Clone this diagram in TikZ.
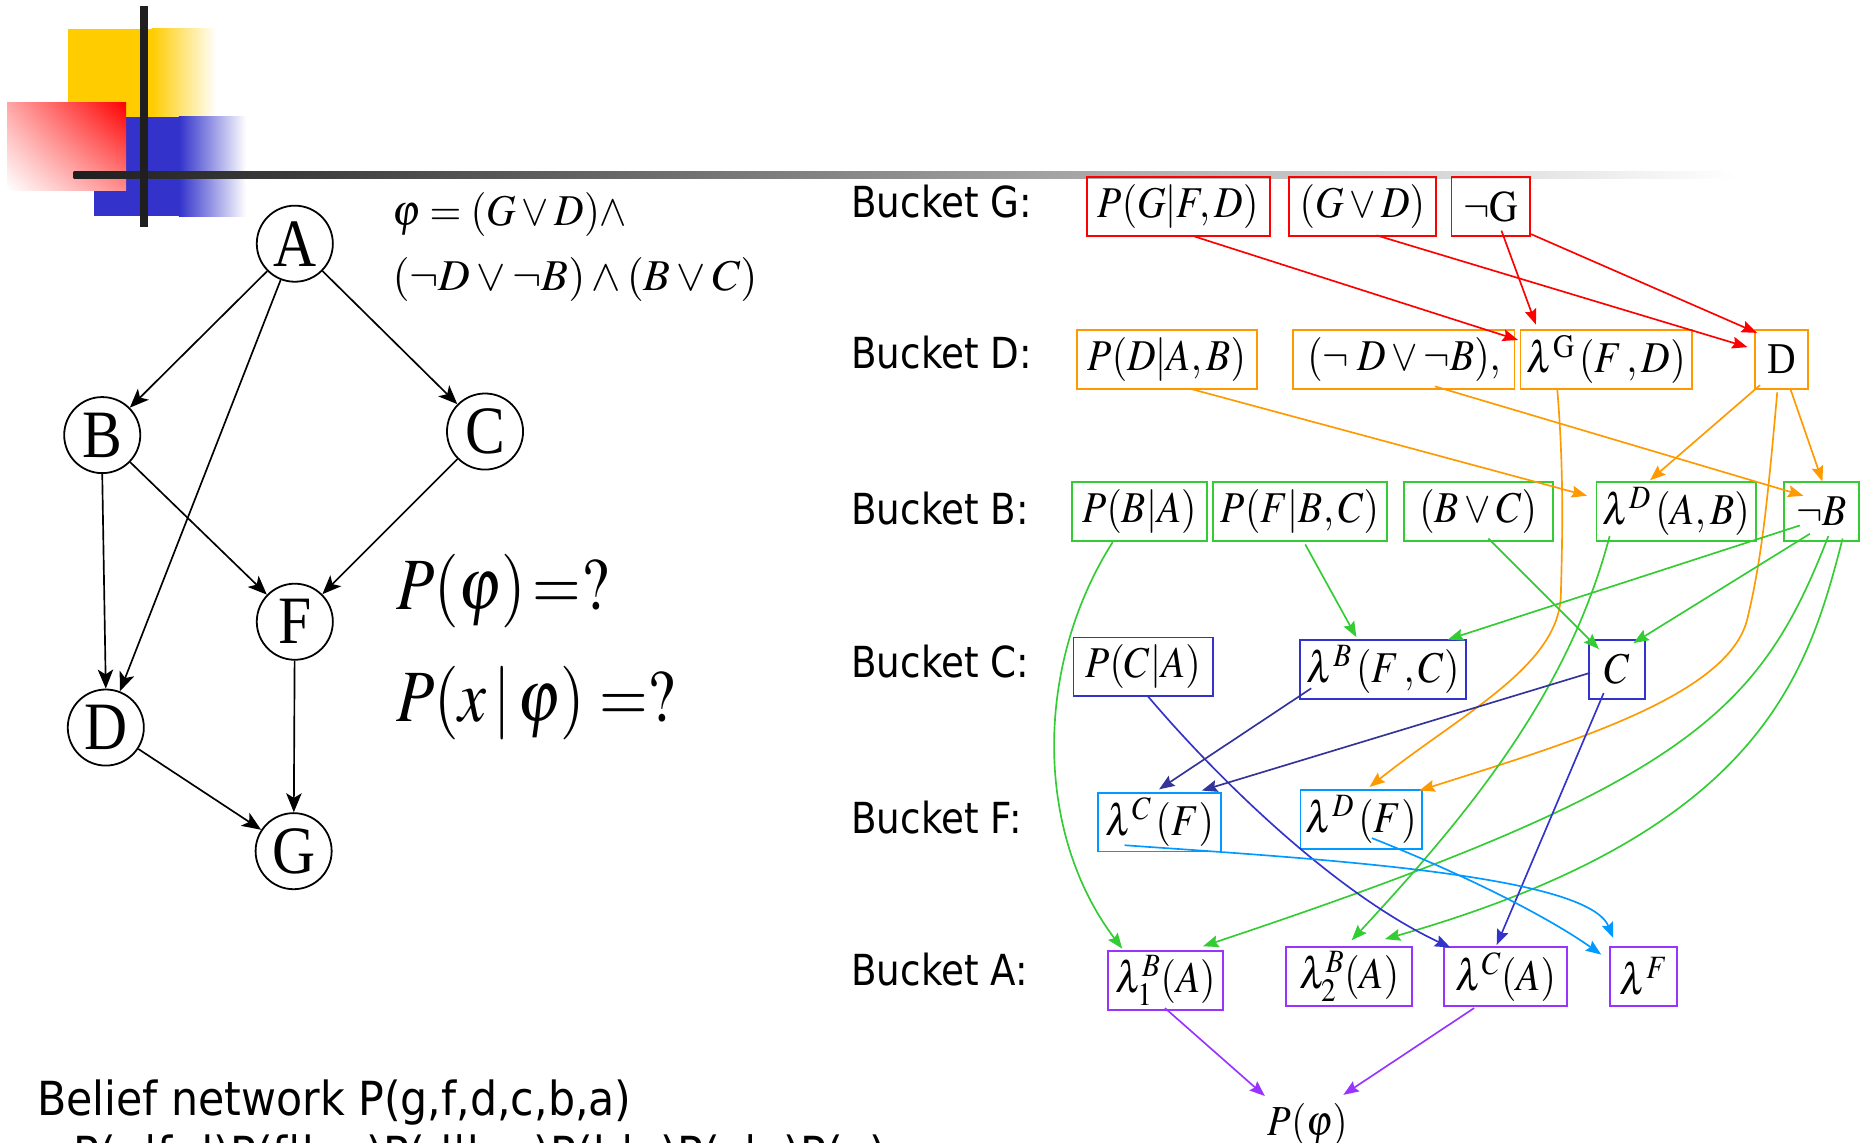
\documentclass[tikz,border=0pt]{standalone}
\usepackage{mathptmx}
\usepackage[no-math]{fontspec}
\setmainfont{Liberation Serif}
\newfontfamily\tahoma{DejaVu Sans}
\usepackage{graphicx}
\usetikzlibrary{arrows.meta,shadings}
\definecolor{cRed}{RGB}{255,0,0}
\definecolor{cOrange}{RGB}{255,153,0}
\definecolor{cGreen}{RGB}{51,204,51}
\definecolor{cBlue}{RGB}{51,51,204}
\definecolor{cNavy}{RGB}{51,51,153}
\definecolor{cLBlue}{RGB}{0,153,255}
\definecolor{cPurple}{RGB}{153,51,255}
\definecolor{cYellow}{RGB}{255,204,0}
\definecolor{cDeco}{RGB}{51,51,204}
\newcommand{\sqz}[2][0.9]{\scalebox{#1}[1]{#2}}
\begin{document}
\begin{tikzpicture}[x=1pt,y=-1pt,
  bx/.style={draw, line width=1.6pt, inner sep=0pt, minimum height=49.5pt, font=\fontsize{37}{42}\selectfont},
  gB/.style={bx, draw=cRed},
  dB/.style={bx, draw=cOrange},
  bB/.style={bx, draw=cGreen},
  cB/.style={bx, draw=cBlue},
  fB/.style={bx, draw=cLBlue},
  aB/.style={bx, draw=cPurple},
  con/.style={line width=1.4pt, -{Stealth[length=13pt,width=10pt,inset=2pt]}},
  circ/.style={draw, circle, line width=1.5pt, minimum size=64pt, inner sep=0pt, font=\fontsize{57}{60}\selectfont},
  larr/.style={line width=1.4pt, -{Stealth[length=16pt,width=13pt,inset=4pt]}},
  bucket/.style={anchor=base west, inner sep=0pt, font=\tahoma\fontsize{36}{40}\selectfont},
  formula/.style={anchor=base west, inner sep=0pt, font=\fontsize{37}{42}\selectfont},
  bigq/.style={anchor=base west, inner sep=0pt, font=\fontsize{62}{70}\selectfont},
  bottomtxt/.style={anchor=base west, inner sep=0pt, font=\tahoma\fontsize{39.5}{44}\selectfont},
]
\useasboundingbox (0,0) rectangle (1568,961);
% decoration
\fill[cYellow] (57,24) rectangle (128,100);
\shade[left color=cYellow, right color=white] (127.5,24) rectangle (182,100);
\fill[cDeco] (79,98) rectangle (151,182);
\shade[left color=cDeco, right color=white] (150.5,98) rectangle (207,182);
\shade[upper right=red, lower left=white, upper left=red!35!white, lower right=red!45!white] (6,86) rectangle (106,160);
\shade[left color=black!88, right color=white] (62,144.5) rectangle (1460,150);
\fill[black!88] (118,5) rectangle (124.5,191);

% left graph
\node[circ] (A) at (248,205) {\sqz[0.88]{A}};
\node[circ] (B) at (86,366) {\sqz[0.88]{B}};
\node[circ] (C) at (408,363) {\sqz[0.88]{C}};
\node[circ] (F) at (248,523) {\sqz[0.88]{F}};
\node[circ] (D) at (89,612) {\sqz[0.88]{D}};
\node[circ] (G) at (247,716) {\sqz[0.88]{G}};
\draw[larr] (A) -- (B);
\draw[larr] (A) -- (C);
\draw[larr] (A) -- (D);
\draw[larr] (B.south) -- (D.north);
\draw[larr] (B) -- (F);
\draw[larr] (C) -- (F);
\draw[larr] (F) -- (G);
\draw[larr] (D) -- (G);

\node[formula] (phi1) at (330,190) {\sqz[0.93]{$\varphi=(G\vee D)\wedge$}};
\node[formula] (phi2) at (330,244) {\sqz[1.0]{$(\neg D\vee\neg B)\wedge(B\vee C)$}};
\node[bigq] (q1) at (333,513) {\sqz[0.85]{$P(\varphi)\!=?$}};
\node[bigq] (q2) at (333,607) {\sqz[0.85]{$P(x\,|\,\varphi)=?$}};

% bucket labels
\node[bucket] (bG) at (716,183) {\sqz[0.87]{Bucket G:}};
\node[bucket] (bD) at (716,310) {\sqz[0.87]{Bucket D:}};
\node[bucket] (bBk) at (716,441) {\sqz[0.87]{Bucket B:}};
\node[bucket] (bC) at (716,570) {\sqz[0.87]{Bucket C:}};
\node[bucket] (bF) at (716,701) {\sqz[0.87]{Bucket F:}};
\node[bucket] (bA) at (716,829) {\sqz[0.87]{Bucket A:}};

% boxes
\node[gB, minimum width=154pt] (pgfd) at (991,174) {\sqz{$P(G|F,D)$}};
\node[gB, minimum width=124pt] (gvd) at (1146,174) {\sqz{$(G\vee D)$}};
\node[gB, minimum width=66pt] (ng) at (1254,174) {\sqz{$\neg\mathrm{G}$}};
\node[dB, minimum width=151pt] (pdab) at (981.5,302.5) {\sqz{$P(D|A,B)$}};
\node[dB, minimum width=186pt] (ndnb) at (1181,302.5) {\sqz{$(\neg\;D\vee\neg B),$}};
\node[dB, minimum width=144pt] (lg) at (1351,302.5) {\sqz{$\lambda^{\mathrm{G}}\,(F\,,D)$}};
\node[dB, minimum width=45pt] (dd) at (1498.5,302.5) {\sqz{D}};
\node[bB, minimum width=113pt] (pba) at (958.5,430) {\sqz{$P(B|A)$}};
\node[bB, minimum width=147pt] (pfbc) at (1093.5,430) {\sqz{$P(F|B,C)$}};
\node[bB, minimum width=125pt] (bvc) at (1243.5,430) {\sqz{$(B\vee C)$}};
\node[bB, minimum width=134pt] (ldab) at (1410,430) {\sqz{$\lambda^{D}\,(A,B)$}};
\node[bB, minimum width=63pt] (nb) at (1532.5,430) {\sqz{$\neg B$}};
\node[cB, minimum width=117pt] (pca) at (961.5,561) {\sqz{$P(C|A)$}};
\node[cB, minimum width=140pt] (lbfc) at (1163.5,563) {\sqz{$\lambda^{B}\,(F\,,C)$}};
\node[cB, minimum width=47pt] (cc) at (1360.5,563) {\sqz{$C$}};
\node[fB, minimum width=103pt] (lcf) at (975.5,691.5) {\sqz{$\lambda^{C}\,(F)$}};
\node[fB, minimum width=102pt] (ldf) at (1145,689.5) {\sqz{$\lambda^{D}\,(F)$}};
\node[aB, minimum width=97pt] (l1b) at (980.5,824.5) {\sqz{$\lambda_1^{B}(A)$}};
\node[aB, minimum width=106pt] (l2b) at (1135,821.5) {\sqz{$\lambda_2^{B}(A)$}};
\node[aB, minimum width=103pt] (lca) at (1266.5,821.5) {\sqz{$\lambda^{C}(A)$}};
\node[aB, minimum width=57pt] (lf) at (1382.5,821.5) {\sqz{$\lambda^{F}$}};
\node[inner sep=0pt, font=\fontsize{36}{40}\selectfont] (pphi) at (1100,946) {\sqz{$P(\varphi)$}};

% red
\draw[con, cRed] ([shift={(14,25)}]pgfd.center) -- ([shift={(-74,-16.5)}]lg.center);
\draw[con, cRed] ([shift={(9,20)}]ng.center) -- ([shift={(-59,-29.5)}]lg.center);
\draw[con, cRed] ([shift={(12,24)}]gvd.center) -- ([shift={(-28.5,-10.5)}]dd.center);
\draw[con, cRed] ([shift={(34,23)}]ng.center) -- ([shift={(-20.5,-22.5)}]dd.center);
% orange
\draw[con, cOrange] ([shift={(21.5,25)}]pdab.center) -- ([shift={(-75,-13)}]ldab.center);
\draw[con, cOrange] ([shift={(26,22.5)}]ndnb.center) -- ([shift={(-15.5,-13)}]nb.center);
\draw[con, cOrange] ([shift={(-41,25.5)}]lg.center) .. controls (1316,400) and (1314,460) .. (1313,500) .. controls (1312,560) and (1230,600) .. ([shift={(7,-27.5)}]ldf.center);
\draw[con, cOrange] ([shift={(-18,21.5)}]dd.center) -- ([shift={(-22,-26)}]ldab.center);
\draw[con, cOrange] ([shift={(-3.5,27.5)}]dd.center) .. controls (1487,420) and (1482,470) .. (1470,520) .. controls (1455,585) and (1320,625) .. ([shift={(49,-24.5)}]ldf.center);
\draw[con, cOrange] ([shift={(7.5,24.5)}]dd.center) -- ([shift={(0.5,-25)}]nb.center);
% green
\draw[con, cGreen] ([shift={(-22.5,26)}]pba.center) .. controls (870,560) and (870,700) .. ([shift={(-36.5,-26.5)}]l1b.center);
\draw[con, cGreen] ([shift={(4.5,28)}]pfbc.center) -- ([shift={(-22.5,-27)}]lbfc.center);
\draw[con, cGreen] ([shift={(8.5,23)}]bvc.center) -- ([shift={(-15.5,-17)}]cc.center);
\draw[con, cGreen] ([shift={(-56,21)}]ldab.center) .. controls (1320,580) and (1240,680) .. ([shift={(2,-30.5)}]l2b.center);
\draw[con, cGreen] ([shift={(-18.5,12)}]nb.center) -- ([shift={(54.5,-25)}]lbfc.center);
\draw[con, cGreen] ([shift={(-10,19)}]nb.center) -- ([shift={(13.5,-22)}]cc.center);
\draw[con, cGreen] ([shift={(5.5,21)}]nb.center) .. controls (1480,600) and (1420,660) .. ([shift={(31.5,-28.5)}]l1b.center);
\draw[con, cGreen] ([shift={(17.5,23)}]nb.center) .. controls (1520,570) and (1480,700) .. ([shift={(30,-31.5)}]l2b.center);
% blue
\draw[con, cBlue] ([shift={(3.5,24)}]pca.center) .. controls (1020,650) and (1120,750) .. ([shift={(-46.5,-24.5)}]lca.center);
\draw[con, cNavy] ([shift={(-60.5,16)}]lbfc.center) -- ([shift={(-0.5,-27.5)}]lcf.center);
\draw[con, cNavy] ([shift={(-23,3)}]cc.center) -- ([shift={(35.5,-26.5)}]lcf.center);
\draw[con, cBlue] ([shift={(-11.5,20)}]cc.center) -- ([shift={(-7.5,-26.5)}]lca.center);
% light blue
\draw[con, cLBlue] ([shift={(-29.5,19.5)}]lcf.center) .. controls (1100,722) and (1335,735) .. ([shift={(-25.5,-32.5)}]lf.center);
\draw[con, cLBlue] ([shift={(9,15.5)}]ldf.center) .. controls (1230,735) and (1300,770) .. ([shift={(-35.5,-18.5)}]lf.center);
% purple
\draw[con, cPurple] ([shift={(-0.5,23.5)}]l1b.center) -- ([shift={(-36,-24)}]pphi.center);
\draw[con, cPurple] ([shift={(-26.5,26.5)}]lca.center) -- ([shift={(30,-25)}]pphi.center);

% bottom text
\node[bottomtxt] (bn1) at (31,938) {\sqz[0.91]{Belief network P(g,f,d,c,b,a)}};
\node[bottomtxt] (bn2) at (62,985) {\sqz[0.91]{P(g|f,d)P(f|b,c)P(d|b,a)P(b|a)P(c|a)P(a)}};
\end{tikzpicture}
\end{document}
